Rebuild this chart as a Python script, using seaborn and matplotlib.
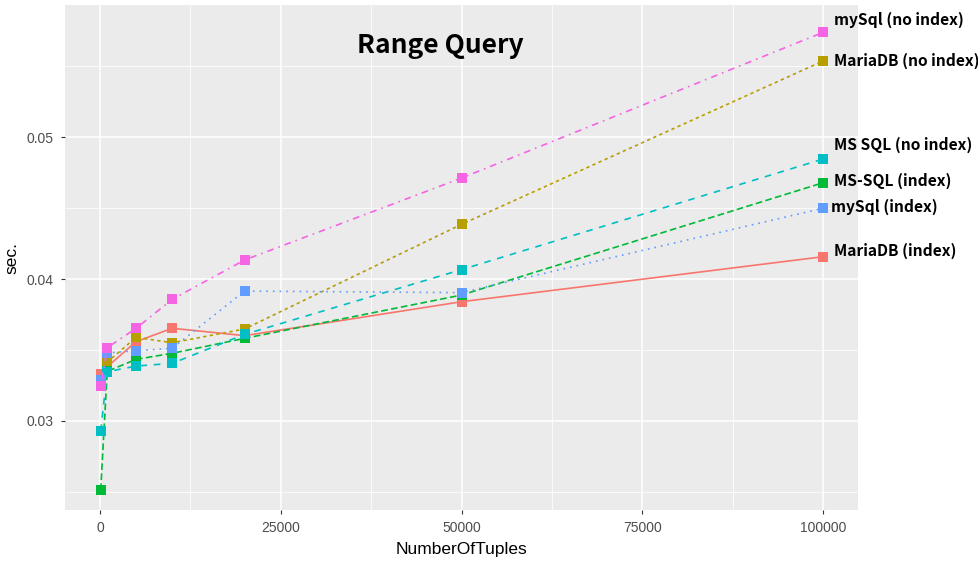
import numpy as np
import pandas as pd
import matplotlib
matplotlib.use("Agg")
import matplotlib.pyplot as plt
import seaborn as sns
from matplotlib.ticker import FixedLocator

# data
tuples = [100, 1000, 5000, 10000, 20000, 50000, 100000]
series_names = ["MariaDB (index)", "MariaDB (no index)", "MS-SQL (index)",
                "MS SQL (no index)", "mySql (index)", "mySql (no index)"]
mariadb_idx = [0.03331, 0.03382, 0.03559, 0.03653, 0.03601, 0.03840, 0.04157]
mariadb_noidx = [0.03277, 0.03415, 0.03589, 0.03551, 0.03648, 0.04385, 0.05535]
mssql_idx = [0.02514, 0.03350, 0.03434, 0.03477, 0.03582, 0.03887, 0.04678]
mssql_noidx = [0.02930, 0.03347, 0.03387, 0.03406, 0.03610, 0.04066, 0.04845]
mysql_idx = [0.03290, 0.03479, 0.03495, 0.03512, 0.03915, 0.03904, 0.04498]
mysql_noidx = [0.03246, 0.03516, 0.03653, 0.03857, 0.04134, 0.04711, 0.05737]
values = [mariadb_idx, mariadb_noidx, mssql_idx, mssql_noidx, mysql_idx, mysql_noidx]

colors = ["#F8766D", "#B79F00", "#00BA38", "#00BFC4", "#619CFF", "#F564E3"]
dash_styles = ["", (2, 2), (4, 2), (4, 4), (1, 3), (1, 3, 4, 3)]
# label offsets in points (x, y) relative to last point
label_offsets = [(8, 4), (8, 0), (8, 1), (8, 10), (6, 1), (8, 9)]

df = pd.DataFrame([
    {"NumberOfTuples": x, "sec.": y, "db": name}
    for name, vals in zip(series_names, values)
    for x, y in zip(tuples, vals)
])

sns.set_style("darkgrid")
plt.rcParams["font.family"] = ["Liberation Sans", "DejaVu Sans"]

fig = plt.figure(figsize=(9.79, 5.64), dpi=100)
ax = fig.add_axes([65 / 979, 54 / 564, 793 / 979, 505 / 564])
ax.set_facecolor("#EBEBEB")

sns.lineplot(data=df, x="NumberOfTuples", y="sec.", hue="db", style="db",
             hue_order=series_names, style_order=series_names,
             palette=dict(zip(series_names, colors)),
             dashes=dict(zip(series_names, dash_styles)),
             markers=dict(zip(series_names, ["s"] * 6)),
             markersize=6.5, markeredgewidth=0, linewidth=1.2,
             legend=False, ax=ax)

for name, vals, c, off in zip(series_names, values, colors, label_offsets):
    ax.annotate(name, (tuples[-1], vals[-1]), xytext=off, textcoords="offset points",
                ha="left", va="center", fontsize=11.2, fontweight="bold",
                family=["Noto Sans CJK KR", "DejaVu Sans"], color="black",
                annotation_clip=False)

ax.text(0.473, 0.92, "Range Query", transform=ax.transAxes, ha="center", va="center",
        fontsize=19, fontweight="bold", color="black",
        family=["Noto Sans CJK KR", "DejaVu Sans"])

ax.set_xlim(-4840, 104840)
ax.set_ylim(0.02373, 0.0593)
ax.set_xticks([0, 25000, 50000, 75000, 100000])
ax.set_xticklabels(["0", "25000", "50000", "75000", "100000"])
ax.set_yticks([0.03, 0.04, 0.05])
ax.set_yticklabels(["0.03", "0.04", "0.05"])
ax.xaxis.set_minor_locator(FixedLocator([12500, 37500, 62500, 87500]))
ax.yaxis.set_minor_locator(FixedLocator([0.025, 0.035, 0.045, 0.055]))
ax.grid(which="major", color="white", linewidth=1.1)
ax.grid(which="minor", color="white", linewidth=0.55)
ax.tick_params(which="major", length=3, width=0.8, color="#333333",
               labelcolor="#4D4D4D", labelsize=10, pad=5, left=True, bottom=True)
ax.tick_params(which="minor", length=0)
for s in ax.spines.values():
    s.set_visible(False)
ax.set_xlabel("NumberOfTuples", fontsize=12.5, color="black", labelpad=5)
ax.set_ylabel("sec.", fontsize=12.5, color="black", labelpad=5)

fig.savefig("out.png", dpi=100)
